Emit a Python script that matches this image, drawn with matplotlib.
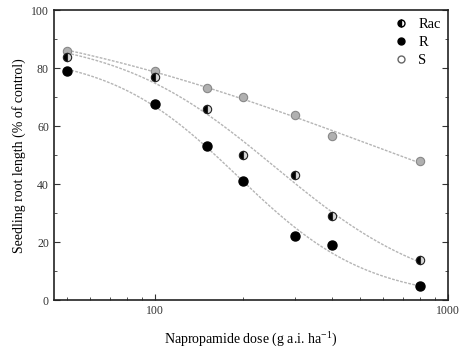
import matplotlib
matplotlib.use('Agg')

import numpy as np
import matplotlib.pyplot as plt
from matplotlib.lines import Line2D
from matplotlib.ticker import FixedLocator, MultipleLocator, NullFormatter

plt.rcParams['font.family'] = ['Liberation Serif', 'DejaVu Serif']
plt.rcParams['mathtext.fontset'] = 'custom'
plt.rcParams['mathtext.rm'] = 'Liberation Serif'

# data
dose = [50, 100, 150, 200, 300, 400, 800]
rac = [84, 77, 66, 50, 43, 29, 14]
r_iso = [79, 67.5, 53, 41, 22, 19, 5]
s_iso = [86, 79, 73, 70, 64, 56.5, 48]
x_ticks = [100, 1000]
x_ticklabels = ['100', '1000']


def fit_loglogistic(x, y):
    # y = top / (1 + (x/ed50)^b), grid search on ed50 and b, top solved linearly
    x = np.asarray(x, float)
    y = np.asarray(y, float)
    best = None
    for ed50 in np.logspace(1.5, 4.5, 400):
        for b in np.linspace(0.2, 4, 200):
            f = 1.0 / (1.0 + (x / ed50) ** b)
            top = f.dot(y) / f.dot(f)
            err = ((top * f - y) ** 2).sum()
            if best is None or err < best[0]:
                best = (err, top, ed50, b)
    return best[1:]


xs = np.logspace(np.log10(50), np.log10(800), 200)

fig = plt.figure(figsize=(4.6, 3.51), dpi=100)
ax = fig.add_axes([0.117, 0.145, 0.857, 0.826])

for ys in (s_iso, rac, r_iso):
    top, ed50, b = fit_loglogistic(dose, ys)
    ax.plot(xs, top / (1 + (xs / ed50) ** b), color='#b5b5b5', lw=1, ls=(0, (2, 1)), zorder=1)

ax.plot(dose, s_iso, 'o', ms=6, mfc='#b0b0b0', mec='#888888', mew=0.8, zorder=3)
ax.plot(dose, rac, 'o', ms=6, fillstyle='left', mfc='black', mfcalt='#d8d8d8', mec='#222222', mew=0.8, zorder=3)
ax.plot(dose, r_iso, 'o', ms=6.5, mfc='black', mec='black', zorder=3)

ax.set_xscale('log')
ax.set_xlim(45, 1000)
ax.set_ylim(0, 100)
ax.xaxis.set_major_locator(FixedLocator(x_ticks))
ax.set_xticklabels(x_ticklabels)
ax.xaxis.set_minor_locator(FixedLocator([50, 60, 70, 80, 90, 200, 300, 400, 500, 600, 700, 800, 900]))
ax.xaxis.set_minor_formatter(NullFormatter())
ax.yaxis.set_major_locator(MultipleLocator(20))
ax.yaxis.set_minor_locator(MultipleLocator(10))
ax.tick_params(axis='both', which='both', direction='in', labelsize=8.5, colors='#333333')
ax.tick_params(axis='y', which='both', right=True)
ax.tick_params(which='major', length=4)
ax.tick_params(which='minor', length=2.5)
for sp in ax.spines.values():
    sp.set_linewidth(1.2)
    sp.set_color('#222222')

ax.set_xlabel('Napropamide dose (g a.i. ha$^{-1}$)', fontsize=10, labelpad=9)
ax.set_ylabel('Seedling root length (% of control)', fontsize=10)

handles = [
    Line2D([], [], ls='', marker='o', ms=5, fillstyle='left', mfc='black', mfcalt='white', mec='black'),
    Line2D([], [], ls='', marker='o', ms=5, mfc='black', mec='black'),
    Line2D([], [], ls='', marker='o', ms=5, mfc='white', mec='#666666'),
]
ax.legend(handles, ['Rac', 'R', 'S'], loc='upper right', frameon=False, fontsize=10.5,
          handletextpad=0.6, labelspacing=0.35, borderaxespad=0.1, handlelength=1.2)

plt.savefig('out.png', dpi=100)
plt.close(fig)
